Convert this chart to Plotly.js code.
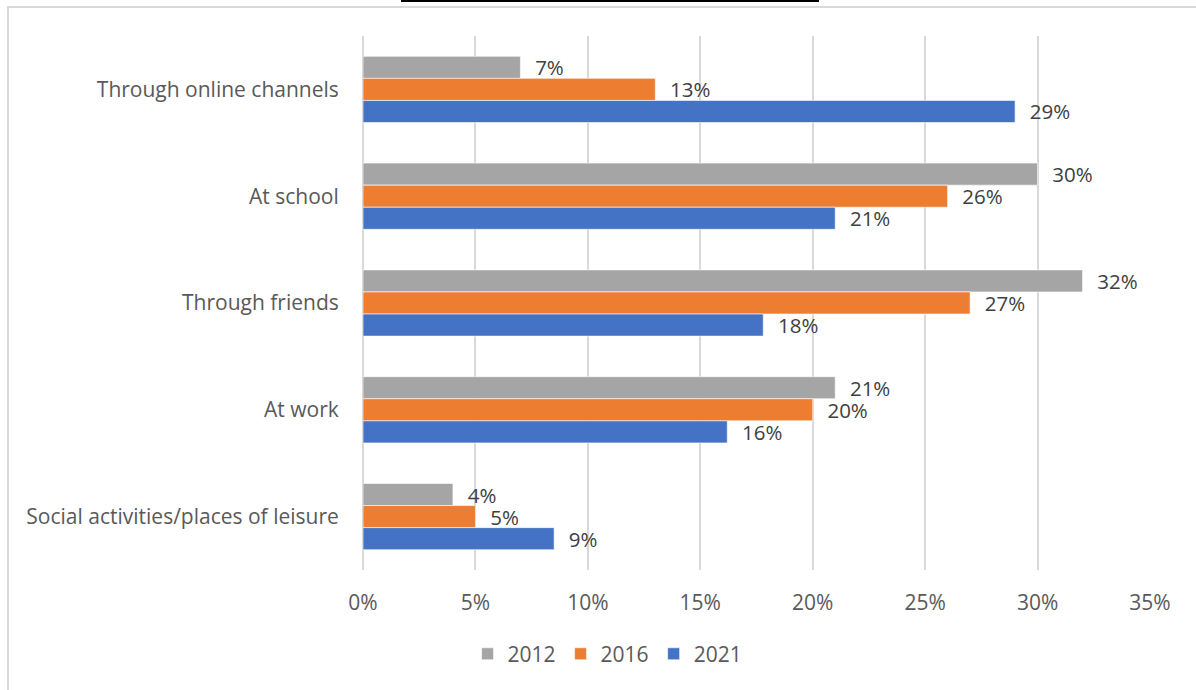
<!DOCTYPE html>
<html>
<head>
<meta charset="utf-8">
<script src="https://cdn.plot.ly/plotly-3.0.1.min.js"></script>
<style>
html,body{margin:0;padding:0;background:#fff;}
#frame{position:absolute;left:7px;top:6px;right:0;bottom:0;border-left:2px solid #D9D9D9;border-top:2px solid #D9D9D9;}
#topline{position:absolute;left:401px;top:0;width:418px;height:2px;background:#000;}
#chart{position:absolute;left:0;top:0;width:1196px;height:690px;}
</style>
</head>
<body>
<div id="frame"></div>
<div id="topline"></div>
<div id="chart"></div>
<script>
var categories = ["Through online channels", "At school", "Through friends", "At work", "Social activities/places of leisure"];
var years = ["2012", "2016", "2021"];
var values2012 = [7, 30, 32, 21, 4];
var values2016 = [13, 26, 27, 20, 5];
var values2021 = [29, 21, 17.8, 16.2, 8.5];
var labels2012 = ["7%", "30%", "32%", "21%", "4%"];
var labels2016 = ["13%", "26%", "27%", "20%", "5%"];
var labels2021 = ["29%", "21%", "18%", "16%", "9%"];
var colors = ["#A5A5A5", "#ED7D31", "#4472C4"];
var xTickVals = [0, 5, 10, 15, 20, 25, 30, 35];
var xTickText = ["0%", "5%", "10%", "15%", "20%", "25%", "30%", "35%"];

var seriesValues = [values2012, values2016, values2021];
var seriesLabels = [labels2012, labels2016, labels2021];

var font = "Open Sans, sans-serif";
var fs = 21;
var traces = years.map(function (yr, i) {
  return {
    type: "bar",
    orientation: "h",
    name: yr,
    y: categories,
    x: seriesValues[i],
    text: seriesLabels[i].map(function (t) { return "\u2007" + t; }),
    textposition: "outside",
    constraintext: "none",
    textfont: {family: font, size: 20.5, color: "#404040"},
    cliponaxis: false,
    marker: {color: colors[i], line: {color: "#ffffff", width: 0.6}},
    hoverinfo: "x+y+name"
  };
});

var layout = {
  width: 1196,
  height: 690,
  margin: {l: 363, r: 46, t: 36, b: 120},
  paper_bgcolor: "rgba(0,0,0,0)",
  plot_bgcolor: "rgba(0,0,0,0)",
  barmode: "group",
  bargap: 0.38,
  bargroupgap: 0,
  font: {family: font, size: fs, color: "#595959"},
  xaxis: {
    range: [0, 35],
    tickvals: xTickVals,
    ticktext: xTickText,
    showgrid: true,
    gridcolor: "#D9D9D9",
    gridwidth: 2,
    zeroline: true,
    zerolinecolor: "#D9D9D9",
    zerolinewidth: 2,
    ticks: "outside",
    ticklen: 14,
    tickcolor: "rgba(0,0,0,0)",
    tickfont: {family: font, size: fs, color: "#595959"},
    showline: false,
    fixedrange: true
  },
  yaxis: {
    type: "category",
    categoryorder: "array",
    categoryarray: categories,
    autorange: "reversed",
    showgrid: false,
    ticks: "outside",
    ticklen: 19,
    tickcolor: "rgba(0,0,0,0)",
    tickfont: {family: font, size: fs, color: "#595959"},
    showline: false,
    fixedrange: true
  },
  showlegend: true,
  legend: {
    orientation: "h",
    xref: "container",
    yref: "container",
    x: 0.508,
    xanchor: "center",
    y: 0.052,
    yanchor: "middle",
    font: {family: font, size: fs, color: "#595959"},
    itemwidth: 30,
    traceorder: "normal"
  }
};

Plotly.newPlot("chart", traces, layout, {displayModeBar: false, staticPlot: true});
</script>
</body>
</html>
